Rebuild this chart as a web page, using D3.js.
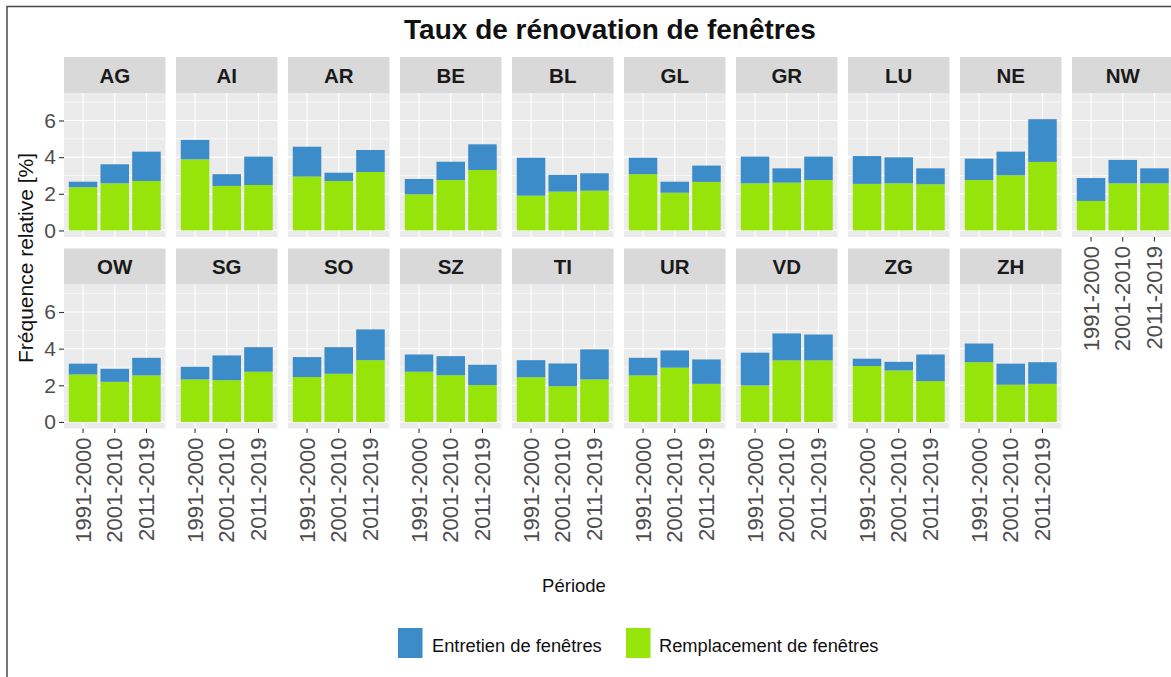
<!DOCTYPE html>
<html>
<head>
<meta charset="utf-8">
<script src="https://cdn.jsdelivr.net/npm/d3@7"></script>
<style>
  html, body { margin: 0; padding: 0; background: #fff; }
  svg { display: block; font-family: "Liberation Sans", Arial, sans-serif; }
</style>
</head>
<body>
<svg id="chart" width="1171" height="677"></svg>
<script>
// ---- data ----
const cantons = ["AG","AI","AR","BE","BL","GL","GR","LU","NE","NW","OW","SG","SO","SZ","TI","UR","VD","ZG","ZH"];
const periods = ["1991-2000","2001-2010","2011-2019"];
// Remplacement de fenêtres (green, bottom of stack), %
const remplacement = [
  [2.36,2.57,2.70],[3.88,2.43,2.48],[2.94,2.70,3.19],[1.97,2.75,3.30],[1.90,2.12,2.17],
  [3.07,2.06,2.65],[2.57,2.61,2.75],[2.54,2.57,2.52],[2.75,3.01,3.74],[1.61,2.57,2.57],
  [2.59,2.19,2.54],[2.32,2.28,2.74],[2.45,2.63,3.37],[2.74,2.55,2.01],[2.44,1.95,2.32],
  [2.54,2.96,2.08],[1.99,3.36,3.36],[3.05,2.81,2.23],[3.26,2.03,2.08]
];
// Entretien de fenêtres (blue, top of stack), %
const entretien = [
  [0.30,1.04,1.60],[1.06,0.64,1.55],[1.63,0.45,1.20],[0.84,1.00,1.40],[2.07,0.91,0.95],
  [0.90,0.60,0.89],[1.46,0.78,1.28],[1.52,1.42,0.87],[1.17,1.29,2.33],[1.25,1.28,0.82],
  [0.59,0.71,0.96],[0.69,1.35,1.34],[1.09,1.45,1.68],[0.94,1.04,1.11],[0.93,1.24,1.64],
  [0.96,0.94,1.33],[1.79,1.47,1.41],[0.40,0.47,1.45],[1.02,1.15,1.18]
];
const yTicks = [0, 2, 4, 6];
const yMinor = [1, 3, 5, 7];
const seriesNames = ["Entretien de fenêtres", "Remplacement de fenêtres"];
const seriesColors = ["#3b8cc9", "#97e40a"];
const titleText = "Taux de rénovation de fenêtres";
const xTitle = "Période";
const yTitle = "Fréquence relative [%]";

// ---- layout ----
const svg = d3.select("#chart");
const nCols = 10;
const colX0 = 64, colStep = 112, panelW = 101.5;
const stripH = 36, panelH = 144;
const rowTop = [57, 248.5];   // strip tops
const yDomain = [-0.357, 7.5];

// outer frame
svg.append("rect").attr("x", 7).attr("y", 6.5).attr("width", 1180).attr("height", 700)
  .attr("fill", "none").attr("stroke", "#4a4a4a").attr("stroke-width", 1.5);

// title
svg.append("text").attr("x", 610).attr("y", 38.5).attr("text-anchor", "middle")
  .attr("font-size", 28).attr("font-weight", "bold").attr("fill", "#111").text(titleText);

const yTickFont = 21, xTickFont = 22;

cantons.forEach((c, i) => {
  const row = Math.floor(i / nCols), col = i % nCols;
  const x0 = colX0 + col * colStep;
  const sTop = rowTop[row];
  const pTop = sTop + stripH, pBot = pTop + panelH;
  const y = d3.scaleLinear().domain(yDomain).range([pBot, pTop]);
  const x = d3.scaleBand().domain(periods).range([x0, x0 + panelW]).paddingInner(0.1).paddingOuter(0.15);
  const g = svg.append("g");

  // strip
  g.append("rect").attr("x", x0).attr("y", sTop).attr("width", panelW).attr("height", stripH).attr("fill", "#d9d9d9");
  g.append("text").attr("x", x0 + panelW / 2).attr("y", sTop + stripH / 2 + 7.5)
    .attr("text-anchor", "middle").attr("font-size", 20.5).attr("font-weight", "bold")
    .attr("fill", "#1a1a1a").text(c);

  // panel bg
  g.append("rect").attr("x", x0).attr("y", pTop).attr("width", panelW).attr("height", panelH).attr("fill", "#ebebeb");
  // minor grid
  g.selectAll(".mn").data(yMinor).join("line")
    .attr("x1", x0).attr("x2", x0 + panelW).attr("y1", d => y(d)).attr("y2", d => y(d))
    .attr("stroke", "#fff").attr("stroke-width", 0.6);
  // major grid
  g.selectAll(".mj").data(yTicks).join("line")
    .attr("x1", x0).attr("x2", x0 + panelW).attr("y1", d => y(d)).attr("y2", d => y(d))
    .attr("stroke", "#fff").attr("stroke-width", 1.2);
  g.selectAll(".vg").data(periods).join("line")
    .attr("x1", d => x(d) + x.bandwidth() / 2).attr("x2", d => x(d) + x.bandwidth() / 2)
    .attr("y1", pTop).attr("y2", pBot).attr("stroke", "#fff").attr("stroke-width", 1.2);

  // stacked bars
  periods.forEach((p, j) => {
    const r = remplacement[i][j], e = entretien[i][j];
    g.append("rect").attr("x", x(p)).attr("width", x.bandwidth())
      .attr("y", y(r)).attr("height", y(0) - y(r)).attr("fill", seriesColors[1]);
    g.append("rect").attr("x", x(p)).attr("width", x.bandwidth())
      .attr("y", y(r + e)).attr("height", y(r) - y(r + e)).attr("fill", seriesColors[0]);
  });

  // y axis for first column
  if (col === 0) {
    const ax = svg.append("g").attr("transform", `translate(${x0},0)`)
      .call(d3.axisLeft(y).tickValues(yTicks).tickSize(5).tickPadding(3).tickFormat(d3.format("d")));
    ax.select(".domain").remove();
    ax.selectAll(".tick line").attr("stroke", "#333").attr("stroke-width", 1.1);
    ax.selectAll(".tick text").attr("font-size", yTickFont).attr("fill", "#4d4d4d")
      .attr("font-family", "Liberation Sans, Arial, sans-serif");
  }
  // x axis for bottom of each column
  const isBottom = (row === 1) || (i + nCols >= cantons.length);
  if (isBottom) {
    const ax = svg.append("g").attr("transform", `translate(0,${pBot})`)
      .call(d3.axisBottom(x).tickSize(4.5).tickPadding(4));
    ax.select(".domain").remove();
    ax.selectAll(".tick line").attr("stroke", "#333").attr("stroke-width", 1.1);
    ax.selectAll(".tick text").attr("font-size", xTickFont).attr("fill", "#4d4d4d")
      .attr("font-family", "Liberation Sans, Arial, sans-serif")
      .attr("transform", "rotate(-90)").attr("text-anchor", "end")
      .attr("x", -9).attr("y", 0).attr("dy", "0.35em");
  }
});

// axis titles
svg.append("text").attr("transform", "translate(33,258) rotate(-90)")
  .attr("text-anchor", "middle").attr("font-size", 21).attr("fill", "#111").text(yTitle);
svg.append("text").attr("x", 574).attr("y", 591.5).attr("text-anchor", "middle")
  .attr("font-size", 18.5).attr("fill", "#111").text(xTitle);

// legend
const legX = [398, 626], legTextX = [432, 659];
seriesNames.forEach((n, k) => {
  svg.append("rect").attr("x", legX[k]).attr("y", 628).attr("width", 24.5).attr("height", 30)
    .attr("fill", seriesColors[k]);
  svg.append("text").attr("x", legTextX[k]).attr("y", 651.5).attr("font-size", 18.3)
    .attr("fill", "#111").text(n);
});
</script>
</body>
</html>
